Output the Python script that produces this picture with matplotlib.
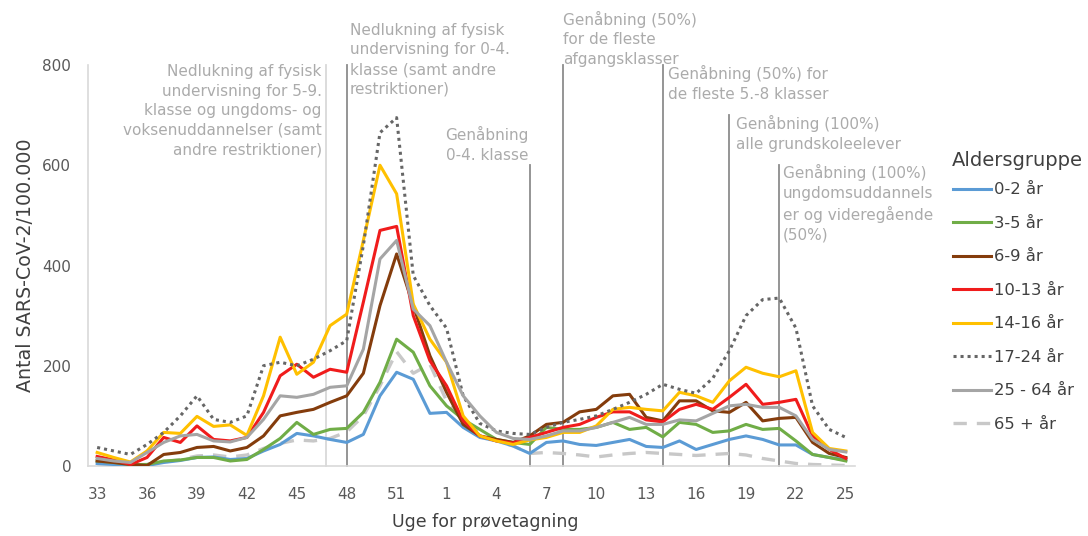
import numpy as np
from matplotlib import pyplot as plt

# weeks 33-53 of 2020 and 1-25 of 2021
weeks = list(range(33, 54)) + list(range(1, 26))

age_0_2 = [5, 3, 3, 1, 7, 11, 17, 18, 13, 15, 30, 43, 65, 60, 53, 47, 63, 140, 187, 173, 105,
           107, 77, 57, 50, 40, 25, 47, 50, 43, 41, 47, 53, 39, 37, 50, 33, 43, 53, 60, 53, 42, 42, 23, 17, 12]
age_3_5 = [10, 7, 3, 3, 10, 12, 17, 17, 10, 13, 33, 55, 87, 63, 73, 75, 107, 167, 253, 227, 160,
           120, 93, 73, 53, 47, 43, 77, 73, 73, 77, 87, 73, 77, 58, 87, 83, 67, 70, 83, 73, 75, 50, 23, 17, 10]
age_6_9 = [10, 7, 3, 1, 23, 27, 37, 39, 30, 37, 60, 100, 107, 113, 127, 140, 185, 320, 423, 320, 220,
           147, 83, 60, 53, 47, 60, 83, 87, 108, 113, 140, 143, 97, 90, 130, 130, 110, 107, 127, 90, 95, 97, 47, 25, 17]
age_10_13 = [19, 12, 3, 17, 57, 47, 80, 53, 50, 57, 107, 180, 203, 177, 193, 187, 327, 470, 478, 300, 210,
             160, 90, 60, 50, 46, 57, 67, 77, 83, 97, 108, 108, 92, 88, 113, 123, 113, 137, 163, 123, 127, 133, 60, 33, 15]
age_14_16 = [27, 17, 8, 30, 67, 65, 99, 79, 82, 61, 140, 257, 183, 207, 280, 303, 450, 600, 543, 323, 253,
             207, 100, 60, 50, 43, 52, 57, 67, 67, 80, 113, 117, 113, 110, 147, 140, 127, 170, 197, 185, 178, 190, 67, 35, 30]
age_17_24 = [37, 30, 23, 43, 67, 100, 140, 93, 87, 100, 200, 207, 200, 213, 230, 250, 440, 665, 695, 380, 320,
             275, 140, 85, 70, 65, 63, 77, 87, 93, 100, 113, 127, 143, 163, 153, 145, 175, 230, 300, 332, 335, 275, 120, 73, 57]
age_25_64 = [15, 10, 7, 27, 47, 60, 63, 50, 48, 57, 93, 140, 137, 143, 157, 160, 233, 413, 450, 313, 280,
             207, 140, 100, 67, 55, 53, 60, 70, 70, 77, 87, 97, 83, 83, 92, 90, 105, 120, 123, 117, 117, 100, 53, 33, 28]
age_65 = [3, 2, 2, 3, 8, 13, 20, 22, 18, 22, 35, 45, 52, 50, 55, 68, 100, 160, 228, 185, 203,
          130, 90, 65, 50, 40, 25, 27, 25, 22, 18, 22, 25, 27, 25, 23, 21, 23, 25, 22, 15, 10, 5, 3, 2, 1]

labels = ["0-2 år", "3-5 år", "6-9 år", "10-13 år", "14-16 år", "17-24 år", "25 - 64 år", "65 + år"]
colors = ["#5b9bd5", "#70ad47", "#843c0c", "#f01c1c", "#ffc000", "#666666", "#a5a5a5", "#c8c8c8"]

# (week index, top of line, text, text x, text top, align, line colour)
events = [
    (13.75, 800, "Nedlukning af fysisk\nundervisning for 5-9.\nklasse og ungdoms- og\nvoksenuddannelser (samt\nandre restriktioner)",
     13.5, 802, "right", "#d9d9d9"),
    (15, 800, "Nedlukning af fysisk\nundervisning for 0-4.\nklasse (samt andre\nrestriktioner)",
     15.2, 884, "left", "#8c8c8c"),
    (26, 600, "Genåbning\n0-4. klasse", 25.95, 678, "right", "#8c8c8c"),
    (28, 800, "Genåbning (50%)\nfor de fleste\nafgangsklasser", 28.0, 908, "left", "#8c8c8c"),
    (34, 800, "Genåbning (50%) for\nde fleste 5.-8 klasser", 34.3, 800, "left", "#8c8c8c"),
    (38, 700, "Genåbning (100%)\nalle grundskoleelever", 38.4, 700, "left", "#8c8c8c"),
    (41, 600, "Genåbning (100%)\nungdomsuddannels\ner og videregående\n(50%)", 41.2, 602, "left", "#8c8c8c"),
]

series = [age_0_2, age_3_5, age_6_9, age_10_13, age_14_16, age_17_24, age_25_64, age_65]

fig = plt.figure(figsize=(10.88, 5.36), dpi=100)
ax = fig.add_axes([88/1088, 1-466/536, (855-88)/1088, (466-65)/536])

x = np.arange(len(weeks))

for pos, top, txt, tx, ty, ha, lc in events:
    ax.plot([pos, pos], [0, top], color=lc, lw=1.3, zorder=1, clip_on=False)
    ax.text(tx, ty, txt, ha=ha, va="top", fontsize=11, color="#ababab",
            linespacing=1.38, clip_on=False)

for vals, lab, col in zip(series, labels, colors):
    if lab == "17-24 år":
        ax.plot(x, vals, color=col, lw=2.2, ls=(0, (1, 1.3)), label=lab, zorder=3)
    elif lab == "65 + år":
        ax.plot(x, vals, color=col, lw=2.4, ls=(0, (4, 3)), label=lab, zorder=2)
    else:
        ax.plot(x, vals, color=col, lw=2.2, label=lab, zorder=3)

ax.set_xlim(-0.55, 45.55)
ax.set_ylim(0, 800)
ax.set_xticks(x[::3])
ax.set_xticklabels([str(w) for w in weeks[::3]])
ax.set_yticks([0, 200, 400, 600, 800])
ax.tick_params(length=0, labelsize=11, colors="#595959")
ax.tick_params(axis="x", pad=15)
ax.tick_params(axis="y", pad=12)
for s in ["top", "right"]:
    ax.spines[s].set_visible(False)
for s in ["left", "bottom"]:
    ax.spines[s].set_color("#d9d9d9")
    ax.spines[s].set_linewidth(1.2)

ax.set_xlabel("Uge for prøvetagning", fontsize=12.5, color="#404040")
ax.xaxis.set_label_coords(0.518, -0.118)
ax.set_ylabel("Antal SARS-CoV-2/100.000", fontsize=13.7, color="#404040")
ax.yaxis.set_label_coords(-0.069, 0.5)

fig.text(952/1088, 1-160/536, "Aldersgruppe", fontsize=14, color="#404040", va="center", ha="left")
leg = fig.legend(loc="upper left", bbox_to_anchor=(950/1088, 1-179/536), frameon=False,
                 fontsize=11.8, handlelength=2.3, handletextpad=0.2, labelspacing=1.13,
                 borderaxespad=0, borderpad=0.2)
for t in leg.get_texts():
    t.set_color("#404040")

plt.savefig("out.png", dpi=100)
